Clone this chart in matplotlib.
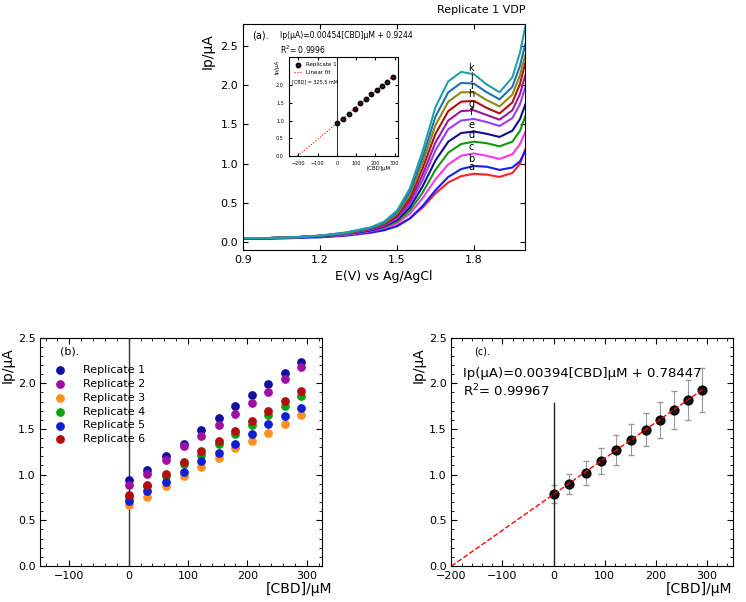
import numpy as np
import matplotlib.pyplot as plt

E = [0.9, 1.0, 1.1, 1.2, 1.3, 1.4, 1.45, 1.5, 1.55, 1.6, 1.65, 1.7, 1.75, 1.8, 1.85, 1.9, 1.95, 1.98, 2.0]
curves = {
    'a': [.05, .05, .06, .07, .09, .13, .16, .21, .30, .44, .62, .76, .84, .87, .86, .83, .88, 1.0, 1.18],
    'b': [.04, .04, .05, .06, .08, .12, .15, .20, .30, .46, .66, .83, .93, .97, .96, .92, .95, 1.03, 1.16],
    'c': [.05, .05, .06, .07, .09, .14, .18, .24, .36, .56, .80, .99, 1.10, 1.13, 1.10, 1.06, 1.12, 1.25, 1.40],
    'd': [.05, .05, .06, .07, .10, .15, .19, .26, .40, .63, .92, 1.14, 1.25, 1.28, 1.26, 1.22, 1.28, 1.42, 1.60],
    'e': [.05, .05, .06, .07, .10, .15, .20, .28, .44, .71, 1.04, 1.28, 1.39, 1.41, 1.38, 1.34, 1.42, 1.57, 1.75],
    'f': [.05, .05, .06, .08, .10, .16, .21, .30, .48, .79, 1.17, 1.44, 1.55, 1.57, 1.53, 1.48, 1.58, 1.76, 1.97],
    'g': [.05, .05, .06, .08, .11, .17, .22, .32, .52, .86, 1.27, 1.55, 1.67, 1.68, 1.62, 1.56, 1.68, 1.89, 2.12],
    'h': [.05, .05, .06, .08, .11, .17, .23, .34, .56, .94, 1.38, 1.67, 1.79, 1.80, 1.71, 1.64, 1.78, 2.02, 2.28],
    'i': [.05, .05, .06, .08, .11, .18, .24, .36, .60, 1.01, 1.49, 1.79, 1.91, 1.91, 1.81, 1.73, 1.88, 2.13, 2.38],
    'j': [.05, .05, .06, .08, .12, .18, .25, .38, .64, 1.08, 1.60, 1.91, 2.03, 2.02, 1.91, 1.82, 1.98, 2.25, 2.52],
    'k': [.05, .05, .06, .08, .12, .19, .26, .40, .68, 1.16, 1.72, 2.05, 2.17, 2.14, 2.01, 1.91, 2.10, 2.42, 2.74],
}
curve_colors = ['#ff2020', '#1a1aff', '#ff33ee', '#119911', '#10108a', '#9a3cf0',
                '#9a1a9a', '#b01010', '#8a8a10', '#2070b0', '#20a0aa']

cbd = [0, 31, 63, 93, 122, 152, 180, 208, 235, 263, 290]
reps = {
    'Replicate 1': [0.94, 1.05, 1.20, 1.34, 1.49, 1.62, 1.75, 1.87, 1.99, 2.11, 2.23],
    'Replicate 2': [0.89, 1.01, 1.16, 1.31, 1.42, 1.54, 1.66, 1.79, 1.91, 2.05, 2.18],
    'Replicate 3': [0.67, 0.76, 0.87, 0.98, 1.08, 1.18, 1.29, 1.37, 1.46, 1.56, 1.65],
    'Replicate 4': [0.75, 0.87, 0.98, 1.12, 1.22, 1.33, 1.45, 1.54, 1.65, 1.75, 1.86],
    'Replicate 5': [0.71, 0.82, 0.92, 1.03, 1.15, 1.24, 1.34, 1.45, 1.55, 1.64, 1.73],
    'Replicate 6': [0.78, 0.89, 1.01, 1.14, 1.26, 1.37, 1.48, 1.59, 1.70, 1.81, 1.92],
}
rep_colors = ['#1010a0', '#a010a0', '#ff9020', '#10a010', '#1020d0', '#b01010']

mean_ip = [0.79, 0.90, 1.02, 1.15, 1.27, 1.38, 1.49, 1.60, 1.71, 1.82, 1.93]
err_ip = [0.10, 0.11, 0.13, 0.14, 0.16, 0.17, 0.18, 0.20, 0.21, 0.22, 0.24]


def style(ax, fs=8):
    ax.minorticks_on()
    ax.tick_params(which='both', direction='in', top=True, right=True, labelsize=fs)
    ax.tick_params(which='major', length=4)
    ax.tick_params(which='minor', length=2)


fig = plt.figure(figsize=(7.46, 6.02), dpi=100)

# (a) voltammograms
ax = fig.add_axes([0.326, 0.585, 0.378, 0.375])
for (lab, ys), c in zip(curves.items(), curve_colors):
    ax.plot(E, ys, color=c, lw=1.5)
    ax.text(1.79, ys[13] + 0.02, lab, fontsize=7, ha='center', va='bottom')
ax.set_xlim(0.9, 2.0)
ax.set_ylim(-0.1, 2.78)
ax.set_xticks([0.9, 1.2, 1.5, 1.8])
ax.set_yticks([0, 0.5, 1.0, 1.5, 2.0, 2.5])
ax.yaxis.set_major_formatter(plt.FormatStrFormatter('%.1f'))
ax.tick_params(direction='in', top=True, right=True, labelsize=8)
ax.set_xlabel('E(V) vs Ag/AgCl', fontsize=9)
ax.set_ylabel('Ip/μA', fontsize=10)
ax.yaxis.set_label_coords(-0.1, 0.88)
ax.text(0.03, 0.97, '(a).', transform=ax.transAxes, fontsize=7, va='top')
ax.text(1.0, 1.04, 'Replicate 1 VDP', transform=ax.transAxes, fontsize=8, ha='right', va='bottom')
ax.text(0.13, 0.86, 'Ip(μA)=0.00454[CBD]μM + 0.9244\nR$^2$= 0.9996', transform=ax.transAxes,
        fontsize=5.5, va='bottom', linespacing=1.3)

ins = fig.add_axes([0.387, 0.741, 0.147, 0.164])
xs = np.array([-205, 290])
ins.plot(xs, 0.9244 + 0.00454 * xs, color='red', ls=':', lw=0.8, label='Linear fit')
ins.scatter(cbd, reps['Replicate 1'], s=10, color='#202020', edgecolors='k', zorder=3, label='Replicate 1')
ins.axvline(0, color='k', lw=0.6)
ins.set_xlim(-250, 320)
ins.set_ylim(0, 2.8)
ins.set_xticks([-200, -100, 0, 100, 200, 300])
ins.set_yticks([0, 0.5, 1.0, 1.5, 2.0])
ins.yaxis.set_major_formatter(plt.FormatStrFormatter('%.1f'))
ins.tick_params(direction='in', labelsize=3.5, length=2, top=True, right=True)
ins.set_xlabel('[CBD]μM', fontsize=4, labelpad=0)
ins.xaxis.set_label_coords(0.82, -0.1)
ins.set_ylabel('Ip/μA', fontsize=4, labelpad=0)
ins.yaxis.set_label_coords(-0.08, 0.9)
h, l = ins.get_legend_handles_labels()
ins.legend(h[::-1], l[::-1], loc='upper left', fontsize=4, frameon=False, handlelength=1.5)
ins.text(0.03, 0.74, '[CBD] = 325.5 mM', transform=ins.transAxes, fontsize=3.5)

# (b) replicates
axb = fig.add_axes([0.054, 0.060, 0.377, 0.379])
for (lab, ys), c in zip(reps.items(), rep_colors):
    axb.scatter(cbd, ys, s=28, color=c, edgecolors=c, label=lab, zorder=3)
axb.axvline(0, color='#333333', lw=1)
axb.set_xlim(-149, 325)
axb.set_ylim(0, 2.5)
axb.set_xticks([-100, 0, 100, 200, 300])
style(axb)
axb.set_xlabel('[CBD]/μM', fontsize=10)
axb.xaxis.set_label_coords(0.92, -0.07)
axb.set_ylabel('Ip/μA', fontsize=10)
axb.yaxis.set_label_coords(-0.09, 0.88)
axb.legend(loc='upper left', bbox_to_anchor=(0.0, 0.92), fontsize=8, frameon=False,
           handletextpad=1.0, labelspacing=0.35, borderpad=0.3)
axb.text(0.07, 0.96, '(b).', transform=axb.transAxes, fontsize=8, va='top')

# (c) mean with error bars
axc = fig.add_axes([0.605, 0.060, 0.377, 0.379])
xf = np.array([-200, 292])
axc.plot(xf, 0.78447 + 0.00394 * xf, color='red', ls='--', lw=1, zorder=4)
axc.errorbar(cbd, mean_ip, yerr=err_ip, fmt='none', ecolor='#999999', elinewidth=0.8, capsize=2, zorder=2)
axc.scatter(cbd, mean_ip, s=40, color='#111111', edgecolors='k', zorder=3)
axc.vlines(0, 0, 1.8, color='#222222', lw=1)
axc.set_xlim(-200, 350)
axc.set_ylim(0, 2.5)
axc.set_xticks([-200, -100, 0, 100, 200, 300])
style(axc)
axc.set_xlabel('[CBD]/μM', fontsize=10)
axc.xaxis.set_label_coords(0.88, -0.07)
axc.set_ylabel('Ip/μA', fontsize=10)
axc.yaxis.set_label_coords(-0.09, 0.88)
axc.text(0.08, 0.96, '(c).', transform=axc.transAxes, fontsize=7, va='top')
axc.text(0.04, 0.87, 'Ip(μA)=0.00394[CBD]μM + 0.78447\nR$^2$= 0.99967', transform=axc.transAxes,
         fontsize=9.5, va='top', linespacing=1.2)

fig.savefig('out.png', dpi=100)
